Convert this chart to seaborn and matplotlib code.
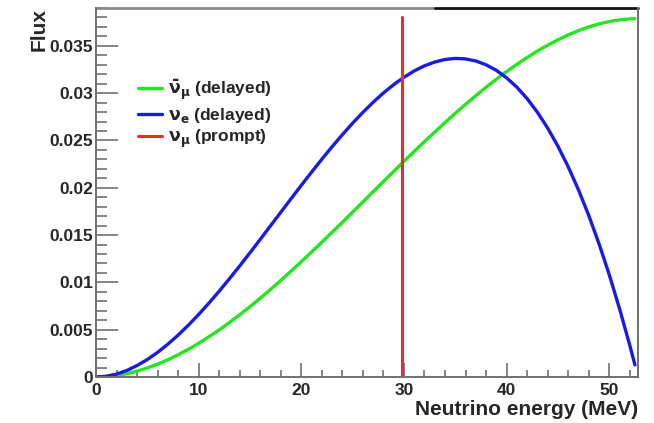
import numpy as np
import pandas as pd
import matplotlib
matplotlib.use("Agg")
import matplotlib.pyplot as plt
from matplotlib.ticker import MultipleLocator
import seaborn as sns

# neutrino energy (MeV) and flux
energy = [0, 1, 2, 3, 4, 5, 6, 7, 8, 9, 10, 11, 12, 13, 14, 15, 16, 17,
          18, 19, 20, 21, 22, 23, 24, 25, 26, 27, 28, 29, 30, 31, 32, 33,
          34, 35, 36, 37, 38, 39, 40, 41, 42, 43, 44, 45, 46, 47, 48, 49,
          50, 51, 52, 52.5]
flux_numubar = [0.0, 0.00004, 0.00016, 0.00035, 0.00062, 0.00096, 0.00136,
                0.00182, 0.00235, 0.00293, 0.00356, 0.00425, 0.00498,
                0.00576, 0.00658, 0.00743, 0.00833, 0.00925, 0.01021,
                0.01119, 0.01219, 0.01321, 0.01425, 0.01530, 0.01636,
                0.01743, 0.01851, 0.01959, 0.02066, 0.02173, 0.02279,
                0.02384, 0.02488, 0.02589, 0.02689, 0.02787, 0.02882,
                0.02973, 0.03062, 0.03147, 0.03228, 0.03305, 0.03377,
                0.03445, 0.03507, 0.03564, 0.03616, 0.03661, 0.03700,
                0.03732, 0.03757, 0.03775, 0.03785, 0.03788]
flux_nue = [0.0, 0.00008, 0.00031, 0.00069, 0.00121, 0.00185, 0.00260,
            0.00347, 0.00443, 0.00548, 0.00661, 0.00781, 0.00907, 0.01039,
            0.01174, 0.01313, 0.01455, 0.01598, 0.01741, 0.01884, 0.02026,
            0.02165, 0.02302, 0.02434, 0.02561, 0.02683, 0.02797, 0.02904,
            0.03002, 0.03090, 0.03168, 0.03235, 0.03289, 0.03329, 0.03356,
            0.03367, 0.03362, 0.03340, 0.03300, 0.03241, 0.03162, 0.03063,
            0.02942, 0.02798, 0.02631, 0.02439, 0.02222, 0.01978, 0.01708,
            0.01409, 0.01081, 0.00723, 0.00334, 0.00128]
prompt_x = [29.8, 29.8]
prompt_y = [0.0, 0.0381]

labels = [r"$\mathrm{\bar{\nu}_{\mu}}$ (delayed)",
          r"$\mathrm{\nu_{e}}$ (delayed)",
          r"$\mathrm{\nu_{\mu}}$ (prompt)"]

df = pd.DataFrame({"energy": energy, "numubar": flux_numubar, "nue": flux_nue})

sns.set_style("white")
plt.rcParams["font.family"] = ["Liberation Sans", "DejaVu Sans"]
plt.rcParams["font.weight"] = "bold"
plt.rcParams["mathtext.fontset"] = "dejavusans"

fig = plt.figure(figsize=(6.54, 4.23), dpi=100)
ax = fig.add_axes([96 / 654, 46 / 423, 542 / 654, 369 / 423])

sns.lineplot(data=df, x="energy", y="numubar", color="#22e61e", lw=2.4,
             ax=ax, label=labels[0], estimator=None)
sns.lineplot(data=df, x="energy", y="nue", color="#1a1ae6", lw=2.4,
             ax=ax, label=labels[1], estimator=None)
ax.plot(prompt_x, prompt_y, color="#ee2a2a", lw=2.2, label=labels[2])

ax.set_xlim(0, 52.8)
ax.set_ylim(0, 0.039)
ax.xaxis.set_major_locator(MultipleLocator(10))
ax.xaxis.set_minor_locator(MultipleLocator(2))
ax.yaxis.set_major_locator(MultipleLocator(0.005))
ax.yaxis.set_minor_locator(MultipleLocator(0.001))
ax.set_xticks([0, 10, 20, 30, 40, 50])
ax.set_xticklabels(["0", "10", "20", "30", "40", "50"])
yt = [0, 0.005, 0.01, 0.015, 0.02, 0.025, 0.03, 0.035]
ax.set_yticks(yt)
ax.set_yticklabels(["0", "0.005", "0.01", "0.015", "0.02", "0.025", "0.03", "0.035"])

ax.tick_params(axis="both", which="both", direction="in", color="#707070",
               labelsize=12.5, width=1.2, bottom=True, left=True,
               top=False, right=False)
ax.tick_params(axis="x", which="major", length=10, pad=4)
ax.tick_params(axis="x", which="minor", length=5)
ax.tick_params(axis="y", which="major", length=16, pad=2)
ax.tick_params(axis="y", which="minor", length=8)
for lab in ax.get_xticklabels() + ax.get_yticklabels():
    lab.set_fontweight("bold")

for side in ["left", "bottom", "right"]:
    ax.spines[side].set_color("#707070")
    ax.spines[side].set_linewidth(1.4)
ax.spines["top"].set_visible(False)
ax.plot([0, 0.625], [1, 1], transform=ax.transAxes, color="#8a8a8a",
        lw=2, clip_on=False)
ax.plot([0.625, 1], [1, 1], transform=ax.transAxes, color="#111111",
        lw=2, clip_on=False)

ax.set_xlabel("Neutrino energy (MeV)", loc="right", fontsize=15,
              fontweight="bold", labelpad=1.5)
ax.set_ylabel("Flux", loc="top", fontsize=15, fontweight="bold", labelpad=1)

leg = ax.legend(loc="upper left", bbox_to_anchor=(0.065, 0.83), frameon=False,
                fontsize=12.5, handlelength=1.4, handletextpad=0.3,
                labelspacing=0.2, borderaxespad=0)
for t in leg.get_texts():
    t.set_fontweight("bold")

fig.savefig("out.png", dpi=100)
